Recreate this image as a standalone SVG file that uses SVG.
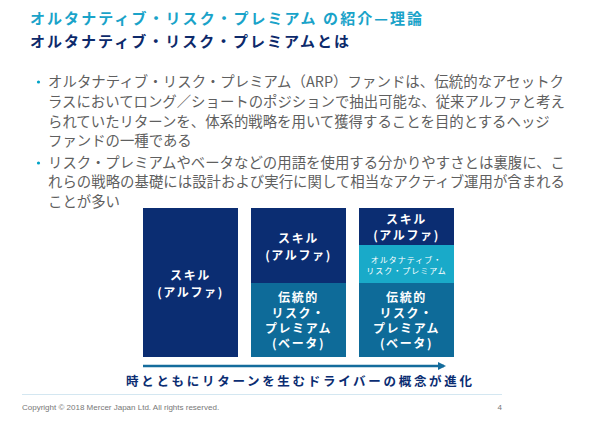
<svg xmlns="http://www.w3.org/2000/svg" width="600" height="428" viewBox="0 0 600 428">
<defs>
<style>
text{font-family:"Noto Sans CJK JP","Noto Sans",sans-serif}
.t1{font-size:15px;font-weight:bold;fill:#1aa3c9}
.t2{font-size:15px;font-weight:bold;fill:#0d2a6b}
.body{font-size:14.4px;fill:#5f5f5f}
.bul{fill:#00a3c7}
.navy{fill:#0b2d72}
.mid{fill:#0e6b99}
.light{fill:#19aac9}
.bl{font-size:12px;font-weight:bold;fill:#ffffff;text-anchor:middle;letter-spacing:1.6px}
.sm{font-size:8px;fill:#ffffff;text-anchor:middle;letter-spacing:1px}
.evo{font-size:12.5px;font-weight:bold;fill:#0b2d72}
.foot{font-family:"Liberation Sans",Arial,sans-serif;font-size:8px;fill:#777777}
</style>
<marker id="ah" markerWidth="8" markerHeight="8" refX="6" refY="4" orient="auto" markerUnits="userSpaceOnUse">
<path d="M0,0 L8,4 L0,8 Z" fill="#146c9c"/>
</marker>
</defs>
<rect width="600" height="428" fill="#ffffff"/>
<g id="title">
<text class="t1" x="30" y="24" textLength="392" lengthAdjust="spacing">オルタナティブ・リスク・プレミアム の紹介—理論</text>
<text class="t2" x="30" y="47" textLength="319" lengthAdjust="spacing">オルタナティブ・リスク・プレミアムとは</text>
</g>
<g id="bullets">
<circle class="bul" cx="38.5" cy="82" r="1.6"/>
<text class="body" x="48" y="86.5" textLength="516" lengthAdjust="spacing">オルタナティブ・リスク・プレミアム（ARP）ファンドは、伝統的なアセットク</text>
<text class="body" x="48" y="106.5" textLength="517" lengthAdjust="spacing">ラスにおいてロング／ショートのポジションで抽出可能な、従来アルファと考え</text>
<text class="body" x="48" y="126.5">られていたリターンを、体系的戦略を用いて獲得することを目的とするヘッジ</text>
<text class="body" x="48" y="146">ファンドの一種である</text>
<circle class="bul" cx="38.5" cy="163" r="1.6"/>
<text class="body" x="48" y="167.5" textLength="517" lengthAdjust="spacing">リスク・プレミアムやベータなどの用語を使用する分かりやすさとは裏腹に、こ</text>
<text class="body" x="48" y="187" textLength="517" lengthAdjust="spacing">れらの戦略の基礎には設計および実行に関して相当なアクティブ運用が含まれる</text>
<text class="body" x="48" y="206.5">ことが多い</text>
</g>
<g id="col1">
<rect class="navy" x="143" y="208" width="95" height="149"/>
<text class="bl" x="190.5" y="280">スキル</text>
<text class="bl" x="190.5" y="297">(アルファ)</text>
</g>
<g id="col2">
<rect class="navy" x="251" y="208" width="95" height="75"/>
<text class="bl" x="298.5" y="243">スキル</text>
<text class="bl" x="298.5" y="260">(アルファ)</text>
<rect class="mid" x="251" y="283" width="95" height="74"/>
<text class="bl" x="298.5" y="302">伝統的</text>
<text class="bl" x="298.5" y="318">リスク・</text>
<text class="bl" x="298.5" y="333">プレミアム</text>
<text class="bl" x="298.5" y="348">(ベータ)</text>
</g>
<g id="col3">
<rect class="navy" x="359" y="208" width="95" height="37"/>
<text class="bl" x="406.5" y="224">スキル</text>
<text class="bl" x="406.5" y="240">(アルファ)</text>
<rect class="light" x="359" y="245" width="95" height="38"/>
<text class="sm" x="406.5" y="263">オルタナティブ・</text>
<text class="sm" x="406.5" y="274">リスク・プレミアム</text>
<rect class="mid" x="359" y="283" width="95" height="74"/>
<text class="bl" x="406.5" y="302">伝統的</text>
<text class="bl" x="406.5" y="318">リスク・</text>
<text class="bl" x="406.5" y="333">プレミアム</text>
<text class="bl" x="406.5" y="348">(ベータ)</text>
</g>
<g id="connectors">
<line x1="143" y1="366" x2="444" y2="366" stroke="#146c9c" stroke-width="2.5" marker-end="url(#ah)"/>
</g>
<g id="evolution">
<text class="evo" x="126" y="386" textLength="346" lengthAdjust="spacing">時とともにリターンを生むドライバーの概念が進化</text>
</g>
<g id="footer">
<line x1="22" y1="394.5" x2="502" y2="394.5" stroke="#d4e7f1" stroke-width="1"/>
<text class="foot" x="22" y="410">Copyright © 2018 Mercer Japan Ltd. All rights reserved.</text>
<text class="foot" x="502" y="410" text-anchor="end">4</text>
</g>
</svg>
